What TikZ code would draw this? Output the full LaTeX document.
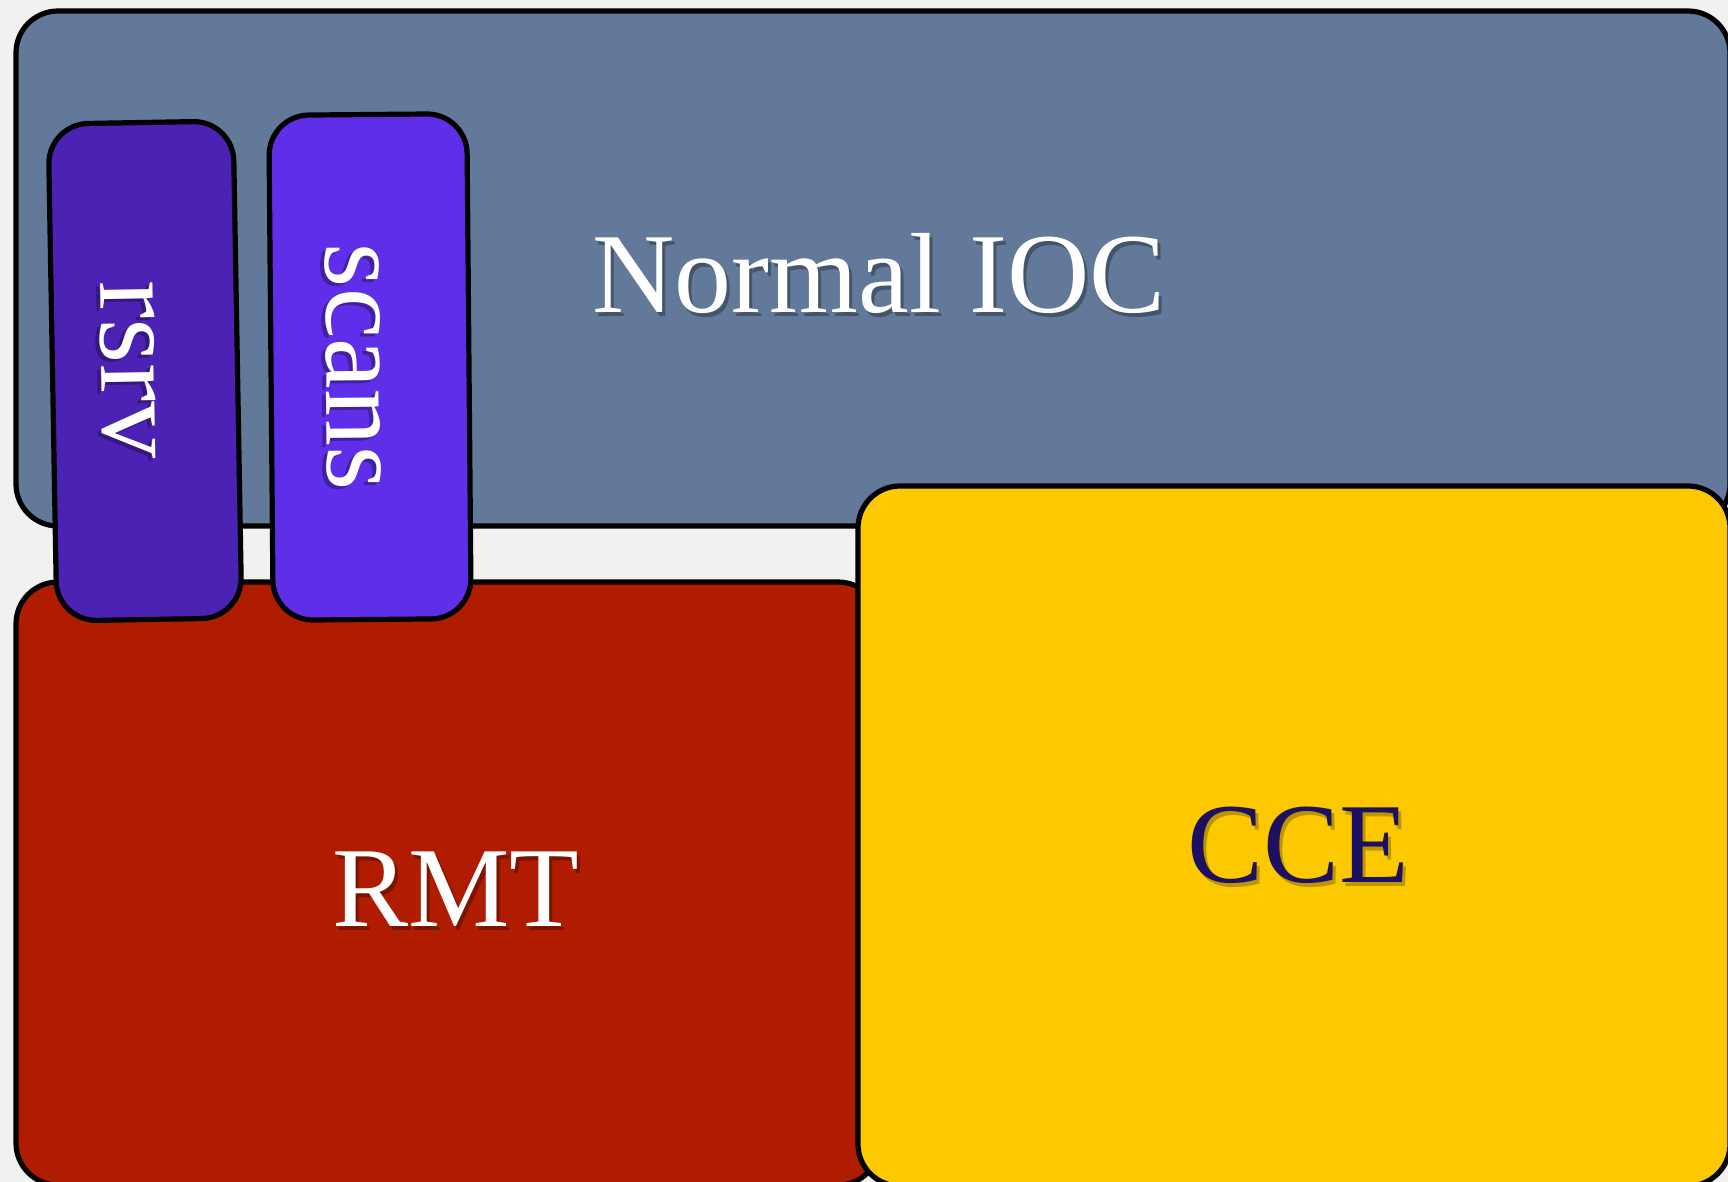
\documentclass[tikz,border=0pt]{standalone}
\usepackage{fontspec}
\setmainfont{Liberation Serif}

\definecolor{paper}{HTML}{F1F1EF}
\definecolor{iocblue}{HTML}{62799A}
\definecolor{rmtred}{HTML}{B01C00}
\definecolor{cceyellow}{HTML}{FCC800}
\definecolor{rsrvpurple}{HTML}{4C22B4}
\definecolor{scanspurple}{HTML}{5F2EE8}
\definecolor{ccenavy}{HTML}{1E1060}

\tikzset{
  panel/.style={draw=black, line width=2.6pt, rounded corners=21pt, inner sep=0pt},
  tabbox/.style={draw=black, line width=2.6pt, rounded corners=20pt, inner sep=0pt},
  word/.style={font=\fontsize{57}{60}\selectfont, text=white, inner sep=0pt},
  wordshade/.style={word, text=black, opacity=0.3},
}

\begin{document}
\begin{tikzpicture}[x=0.5pt, y=-0.5pt]
  % page
  \fill[paper] (0,0) rectangle (1728,1182);
  \useasboundingbox (0,0) rectangle (1728,1182);

  % large areas
  \node[panel, fill=iocblue, minimum width=857pt, minimum height=257.5pt]
    (ioc) at (873,268.5) {};
  \node[panel, fill=rmtred, minimum width=432pt, minimum height=301.5pt]
    (rmt) at (448,883.5) {};
  \node[panel, fill=cceyellow, minimum width=436pt, minimum height=350pt]
    (cce) at (1294,836) {};

  % small tabs
  \node[tabbox, fill=rsrvpurple, minimum width=92.5pt, minimum height=248.5pt, rotate=1.0]
    (rsrv) at (145,371) {};
  \node[tabbox, fill=scanspurple, minimum width=99pt, minimum height=252.5pt, rotate=0.5]
    (scans) at (370,367) {};

  % labels, each with a soft drop shadow underneath
  \node[wordshade, anchor=base] (iocS) at (882,316) {Normal IOC};
  \node[word, anchor=base] (iocT) at (879,312) {Normal IOC};

  \node[wordshade, anchor=base] (rmtS) at (459,930) {RMT};
  \node[word, anchor=base] (rmtT) at (456,926) {RMT};

  \node[wordshade, anchor=base, opacity=0.25] (cceS) at (1301,886) {CCE};
  \node[word, anchor=base, text=ccenavy] (cceT) at (1298,882) {CCE};

  \node[wordshade, rotate=-89] (rsrvS) at (124,373) {rsrv};
  \node[word, rotate=-89] (rsrvT) at (128,370) {rsrv};

  \node[wordshade, rotate=-89.5] (scansS) at (349,370) {scans};
  \node[word, rotate=-89.5] (scansT) at (353,367) {scans};
\end{tikzpicture}
\end{document}
